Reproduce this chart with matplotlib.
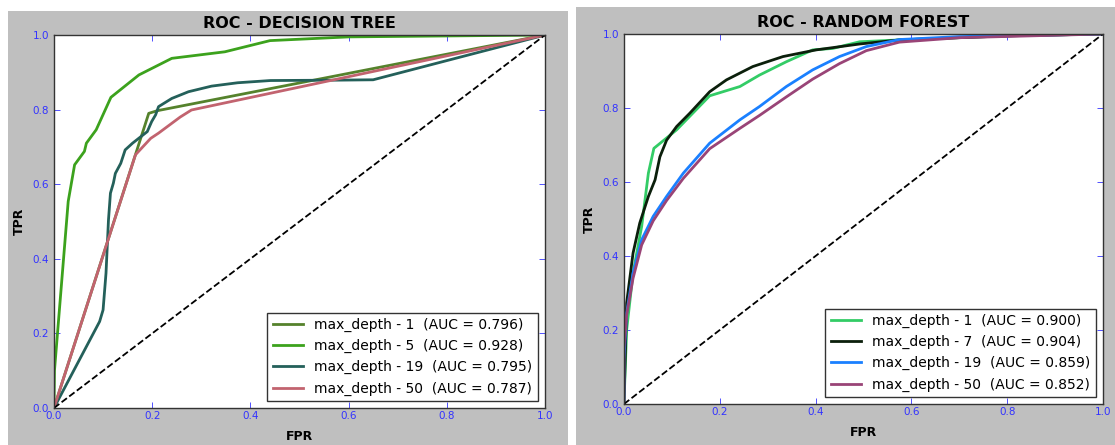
import matplotlib
matplotlib.use("Agg")
import matplotlib.pyplot as plt
from matplotlib.patches import Rectangle

# ROC curve points
dt_labels = ["max_depth - 1  (AUC = 0.796)", "max_depth - 5  (AUC = 0.928)",
             "max_depth - 19  (AUC = 0.795)", "max_depth - 50  (AUC = 0.787)"]
dt_colors = ["#55822c", "#3ca21d", "#24605a", "#c2636f"]

dt1_fpr = [0.0, 0.193, 0.21, 1.0]
dt1_tpr = [0.0, 0.79, 0.797, 1.0]

dt5_fpr = [0.0, 0.001, 0.029, 0.042, 0.062, 0.066, 0.086, 0.116, 0.173, 0.24, 0.348, 0.44, 0.6, 1.0]
dt5_tpr = [0.0, 0.1, 0.554, 0.652, 0.688, 0.71, 0.746, 0.833, 0.893, 0.9375, 0.955, 0.985, 0.995, 1.0]

dt19_fpr = [0.0, 0.093, 0.1, 0.106, 0.111, 0.115, 0.121, 0.125, 0.136, 0.145, 0.16, 0.19, 0.199,
            0.207, 0.213, 0.24, 0.274, 0.321, 0.374, 0.441, 0.576, 0.65, 1.0]
dt19_tpr = [0.0, 0.232, 0.263, 0.362, 0.504, 0.576, 0.603, 0.629, 0.656, 0.692, 0.71, 0.741, 0.768,
            0.786, 0.808, 0.83, 0.848, 0.863, 0.872, 0.878, 0.879, 0.88, 1.0]

dt50_fpr = [0.0, 0.166, 0.197, 0.213, 0.257, 0.28, 1.0]
dt50_tpr = [0.0, 0.679, 0.723, 0.737, 0.78, 0.799, 1.0]

rf_labels = ["max_depth - 1  (AUC = 0.900)", "max_depth - 7  (AUC = 0.904)",
             "max_depth - 19  (AUC = 0.859)", "max_depth - 50  (AUC = 0.852)"]
rf_colors = ["#33cc66", "#0b1f0b", "#1a80ff", "#994477"]

rf1_fpr = [0.0, 0.0056, 0.019, 0.037, 0.051, 0.0625, 0.11, 0.179, 0.242, 0.283, 0.339, 0.394,
           0.436, 0.492, 0.575, 0.8, 1.0]
rf1_tpr = [0.0, 0.2, 0.354, 0.48, 0.624, 0.691, 0.741, 0.833, 0.858, 0.889, 0.925, 0.957,
           0.961, 0.979, 0.984, 0.995, 1.0]

rf7_fpr = [0.0, 0.0056, 0.019, 0.033, 0.051, 0.065, 0.075, 0.089, 0.11, 0.1375, 0.179, 0.214,
           0.269, 0.332, 0.401, 0.492, 0.575, 0.8, 1.0]
rf7_tpr = [0.0, 0.273, 0.408, 0.489, 0.561, 0.606, 0.668, 0.713, 0.75, 0.786, 0.844, 0.876,
           0.912, 0.939, 0.957, 0.973, 0.984, 0.995, 1.0]

rf19_fpr = [0.0, 0.0, 0.0056, 0.019, 0.037, 0.061, 0.089, 0.124, 0.179, 0.242, 0.283, 0.339,
            0.394, 0.45, 0.506, 0.575, 0.7, 1.0]
rf19_tpr = [0.0, 0.12, 0.246, 0.354, 0.444, 0.507, 0.561, 0.624, 0.705, 0.768, 0.804, 0.858,
            0.903, 0.939, 0.966, 0.985, 0.993, 1.0]

rf50_fpr = [0.0, 0.0, 0.0056, 0.019, 0.037, 0.061, 0.089, 0.124, 0.179, 0.242, 0.283, 0.339,
            0.394, 0.45, 0.506, 0.575, 0.7, 1.0]
rf50_tpr = [0.0, 0.15, 0.24, 0.34, 0.43, 0.495, 0.55, 0.61, 0.69, 0.745, 0.78, 0.83,
            0.878, 0.92, 0.955, 0.978, 0.99, 1.0]

ticks = [0.0, 0.2, 0.4, 0.6, 0.8, 1.0]

fig = plt.figure(figsize=(11.15, 4.45), dpi=100, facecolor="white")

# grey window backgrounds of the two screenshots
fig.patches.append(Rectangle((0.0072, 0.0), 0.5022, 0.9753, transform=fig.transFigure,
                             facecolor="#bfbfbf", edgecolor="none", zorder=-10))
fig.patches.append(Rectangle((0.5166, 0.0), 0.4834, 0.9843, transform=fig.transFigure,
                             facecolor="#bfbfbf", edgecolor="none", zorder=-10))

ax1 = fig.add_axes([0.0484, 0.0831, 0.4404, 0.8382])
ax2 = fig.add_axes([0.5596, 0.0921, 0.4296, 0.8315])


def style_axes(ax, title):
    ax.set_xlim(0, 1)
    ax.set_ylim(0, 1)
    ax.set_xticks(ticks)
    ax.set_yticks(ticks)
    ax.set_xticklabels([f"{t:.1f}" for t in ticks])
    ax.set_yticklabels([f"{t:.1f}" for t in ticks])
    ax.tick_params(direction="in", top=True, right=True, length=4, width=0.6,
                   color="#3333ff", labelcolor="#3333ff", labelsize=7.5)
    ax.tick_params(axis="y", pad=3.5)
    ax.tick_params(axis="x", pad=2.5)
    for s in ax.spines.values():
        s.set_color("#333333")
        s.set_linewidth(1.0)
    ax.set_title(title, fontsize=11.5, fontweight="bold", pad=5)
    ax.set_xlabel("FPR", fontsize=9, fontweight="bold", labelpad=6)
    ax.set_ylabel("TPR", fontsize=9, fontweight="bold", labelpad=5)
    ax.plot([0, 1], [0, 1], "k--", lw=1.3)
    ax.legend(loc="lower right", fontsize=10, fancybox=False, framealpha=1,
              edgecolor="#333333", handlelength=2.2, borderaxespad=0.5,
              labelspacing=0.5)


ax1.plot(dt1_fpr, dt1_tpr, color=dt_colors[0], lw=2, label=dt_labels[0])
ax1.plot(dt5_fpr, dt5_tpr, color=dt_colors[1], lw=2, label=dt_labels[1])
ax1.plot(dt19_fpr, dt19_tpr, color=dt_colors[2], lw=2, label=dt_labels[2])
ax1.plot(dt50_fpr, dt50_tpr, color=dt_colors[3], lw=2, label=dt_labels[3])
style_axes(ax1, "ROC - DECISION TREE")

ax2.plot(rf1_fpr, rf1_tpr, color=rf_colors[0], lw=2, label=rf_labels[0])
ax2.plot(rf7_fpr, rf7_tpr, color=rf_colors[1], lw=2, label=rf_labels[1])
ax2.plot(rf19_fpr, rf19_tpr, color=rf_colors[2], lw=2, label=rf_labels[2])
ax2.plot(rf50_fpr, rf50_tpr, color=rf_colors[3], lw=2, label=rf_labels[3])
style_axes(ax2, "ROC - RANDOM FOREST")

fig.savefig("out.png", dpi=100, facecolor="white")
